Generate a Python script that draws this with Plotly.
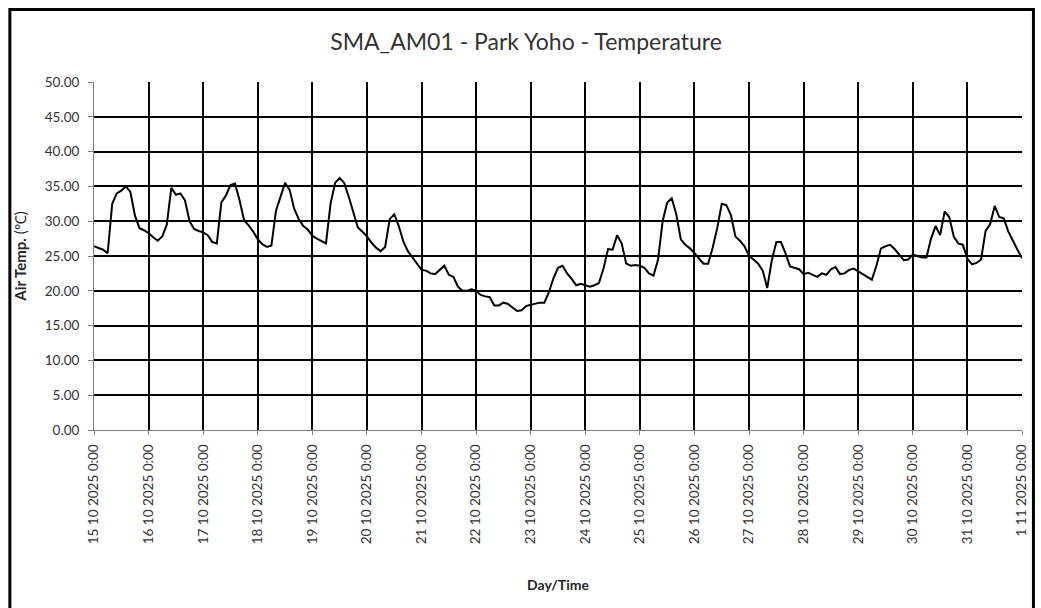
import pandas as pd
import plotly.graph_objects as go

# Two-hourly air temperature readings (°C), one list per day, starting 0:00
oct15 = [26.4, 26.2, 25.9, 25.4, 32.5, 34.0, 34.4, 35.0, 34.2, 30.8, 29.0, 28.7]
oct16 = [28.3, 27.7, 27.2, 27.8, 29.5, 34.8, 33.8, 34.0, 33.0, 30.0, 28.9, 28.6]
oct17 = [28.4, 28.0, 27.0, 26.8, 32.7, 33.7, 35.2, 35.4, 33.0, 30.1, 29.4, 28.5]
oct18 = [27.4, 26.7, 26.3, 26.5, 31.5, 33.5, 35.5, 34.5, 31.8, 30.3, 29.3, 28.8]
oct19 = [27.9, 27.5, 27.1, 26.8, 32.5, 35.5, 36.2, 35.5, 33.5, 31.3, 29.1, 28.5]
oct20 = [27.8, 26.9, 26.2, 25.7, 26.3, 30.3, 31.0, 29.3, 27.1, 25.7, 24.8, 24.0]
oct21 = [23.0, 22.9, 22.5, 22.4, 23.0, 23.6, 22.3, 22.0, 20.6, 20.0, 20.0, 20.2]
oct22 = [20.0, 19.4, 19.2, 19.1, 17.9, 17.9, 18.3, 18.1, 17.6, 17.1, 17.2, 17.8]
oct23 = [18.0, 18.2, 18.3, 18.3, 19.8, 21.8, 23.3, 23.6, 22.5, 21.7, 20.8, 21.0]
oct24 = [20.8, 20.6, 20.8, 21.1, 23.2, 26.0, 25.9, 28.0, 26.8, 23.9, 23.6, 23.7]
oct25 = [23.6, 23.3, 22.5, 22.2, 24.5, 30.0, 32.7, 33.3, 31.0, 27.4, 26.6, 26.1]
oct26 = [25.4, 24.7, 23.9, 23.9, 26.2, 29.0, 32.5, 32.3, 30.9, 27.8, 27.2, 26.4]
oct27 = [25.0, 24.5, 23.9, 22.9, 20.4, 24.4, 27.0, 27.0, 25.4, 23.5, 23.3, 23.1]
oct28 = [22.4, 22.6, 22.3, 22.0, 22.5, 22.3, 23.1, 23.4, 22.4, 22.5, 23.0, 23.2]
oct29 = [22.8, 22.4, 22.0, 21.6, 23.6, 26.1, 26.4, 26.6, 26.0, 25.2, 24.4, 24.5]
oct30 = [25.2, 25.0, 24.8, 24.8, 27.5, 29.3, 28.0, 31.4, 30.6, 27.8, 26.8, 26.6]
oct31 = [24.6, 23.8, 24.0, 24.5, 28.6, 29.6, 32.2, 30.6, 30.4, 28.5, 27.1, 25.9]
nov01 = [24.7]

days = [oct15, oct16, oct17, oct18, oct19, oct20, oct21, oct22, oct23,
        oct24, oct25, oct26, oct27, oct28, oct29, oct30, oct31, nov01]
temps = [v for day in days for v in day]
times = pd.date_range("2025-10-15 00:00", periods=len(temps), freq="2h")

# Axis tick labels
day_ticks = pd.date_range("2025-10-15", "2025-11-01", freq="D")
day_labels = ["15 10 2025 0:00", "16 10 2025 0:00", "17 10 2025 0:00",
              "18 10 2025 0:00", "19 10 2025 0:00", "20 10 2025 0:00",
              "21 10 2025 0:00", "22 10 2025 0:00", "23 10 2025 0:00",
              "24 10 2025 0:00", "25 10 2025 0:00", "26 10 2025 0:00",
              "27 10 2025 0:00", "28 10 2025 0:00", "29 10 2025 0:00",
              "30 10 2025 0:00", "31 10 2025 0:00", "1 11 2025 0:00"]
temp_ticks = [0, 5, 10, 15, 20, 25, 30, 35, 40, 45, 50]

FONT = "Lato, Open Sans, sans-serif"
W, H = 1041, 608
L, R, T, B = 94, 15, 82, 178
pw, ph = W - L - R, H - T - B


def px_x(p):
    return (p - L) / pw


def px_y(p):
    return (H - B - p) / ph


fig = go.Figure()
fig.add_trace(go.Scatter(
    x=times, y=temps, mode="lines",
    line=dict(color="#000000", width=2),
    showlegend=False, hoverinfo="x+y",
))

fig.update_layout(
    width=W, height=H,
    margin=dict(l=L, r=R, t=T, b=B),
    paper_bgcolor="white", plot_bgcolor="white",
    font=dict(family=FONT, color="#404040", size=12),
    title=dict(text="SMA_AM01 - Park Yoho - Temperature",
               x=526 / W, xref="container", xanchor="center",
               y=1 - 42 / H, yref="container", yanchor="middle",
               font=dict(family=FONT, size=23, color="#333333")),
    shapes=[dict(type="rect", xref="paper", yref="paper",
                 x0=px_x(9.5), x1=px_x(1037.5), y0=px_y(640), y1=px_y(9.5),
                 line=dict(color="black", width=3), layer="above")],
)

fig.update_xaxes(
    range=[day_ticks[0], day_ticks[-1]],
    tickmode="array", tickvals=day_ticks, ticktext=day_labels,
    tickangle=-90, tickfont=dict(size=13.5, color="#333333"),
    ticklabelstandoff=4,
    showgrid=True, gridcolor="#000000", gridwidth=2,
    showline=True, linecolor="#7f7f7f", linewidth=1,
    ticks="outside", ticklen=4, tickcolor="#7f7f7f",
    title=dict(text="<b>Day/Time</b>", standoff=36,
               font=dict(size=14, color="#262626")),
    zeroline=False,
)
fig.update_yaxes(
    range=[0, 50], tickmode="array", tickvals=temp_ticks,
    tickformat=".2f", tickfont=dict(size=13.5, color="#333333"),
    ticklabelstandoff=6,
    showgrid=True, gridcolor="#000000", gridwidth=2,
    showline=True, linecolor="#7f7f7f", linewidth=1,
    ticks="outside", ticklen=5, tickcolor="#7f7f7f",
    title=dict(text="<b>Air Temp.</b> (℃)", standoff=14,
               font=dict(size=15, color="#262626")),
    zeroline=False,
)

fig.write_html("out.html")
